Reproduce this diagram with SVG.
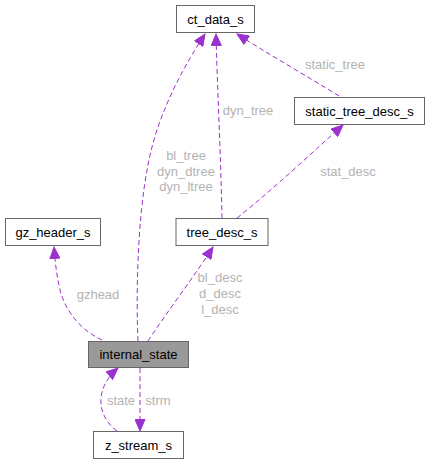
<svg xmlns="http://www.w3.org/2000/svg" width="431" height="464" viewBox="0 0 431 464">
<style>
.node rect{fill:#ffffff;stroke:#666666;stroke-width:1}
.node.hl rect{fill:#999999}
.node text{font-family:"Liberation Sans",Arial,sans-serif;font-size:13px;fill:#000000;text-anchor:middle}
.edge{fill:none;stroke:#9A32CD;stroke-width:1;stroke-dasharray:5,3}
.lbl{font-family:"Liberation Sans",Arial,sans-serif;font-size:13px;fill:#b3b3b3;text-anchor:middle}
</style>
<defs>
<marker id="ah" viewBox="0 0 13 11" refX="12" refY="5.5" markerWidth="13" markerHeight="11" markerUnits="userSpaceOnUse" orient="auto">
<path d="M0.5,0.5 L12,5.5 L0.5,10.5 Z" fill="#9A32CD" stroke="#9A32CD" stroke-width="1"/>
</marker>
</defs>
<rect width="431" height="464" fill="#ffffff"/>
<g id="connectors">
<path class="edge" marker-end="url(#ah)" d="M138,341 C136,300 137,220 148,165 C158,110 188,60 205,34"/>
<path class="edge" marker-end="url(#ah)" d="M222,218 C221,160 217,80 216,34"/>
<path class="edge" marker-end="url(#ah)" d="M339,96 C310,78 265,52 237,34"/>
<path class="edge" marker-end="url(#ah)" d="M237,218 C270,192 315,150 343,125"/>
<path class="edge" marker-end="url(#ah)" d="M102,340 C80,330 65,310 60,290 C56,272 55,260 54,247"/>
<path class="edge" marker-end="url(#ah)" d="M148,341 C165,315 195,275 213,247"/>
<path class="edge" marker-end="url(#ah)" d="M140,368 C140,390 140,410 140,431"/>
<path class="edge" marker-end="url(#ah)" d="M117,431 C105,422 100,410 101,398 C102,385 110,375 118,368"/>
<text class="lbl" x="186" y="159.5">bl_tree</text>
<text class="lbl" x="186" y="175.5">dyn_dtree</text>
<text class="lbl" x="186" y="190.5">dyn_ltree</text>
<text class="lbl" x="248" y="114.5">dyn_tree</text>
<text class="lbl" x="335" y="68.5">static_tree</text>
<text class="lbl" x="348" y="175.5">stat_desc</text>
<text class="lbl" x="98" y="298.5">gzhead</text>
<text class="lbl" x="220" y="281.5">bl_desc</text>
<text class="lbl" x="220" y="297.5">d_desc</text>
<text class="lbl" x="220" y="313.5">l_desc</text>
<text class="lbl" x="121" y="405">state</text>
<text class="lbl" x="158" y="405">strm</text>
</g>
<g id="ct_data_s" class="node"><rect x="176.5" y="5.5" width="78" height="27"/><text x="215.5" y="23.5">ct_data_s</text></g>
<g id="static_tree_desc_s" class="node"><rect x="294.5" y="97.5" width="130" height="27"/><text x="359.5" y="115.5">static_tree_desc_s</text></g>
<g id="gz_header_s" class="node"><rect x="5.5" y="218.5" width="95" height="27"/><text x="53" y="236.5">gz_header_s</text></g>
<g id="tree_desc_s" class="node"><rect x="176" y="218.5" width="92" height="27"/><text x="222" y="236.5">tree_desc_s</text></g>
<g id="internal_state" class="node hl"><rect x="88.5" y="341.5" width="100" height="26"/><text x="138.5" y="359">internal_state</text></g>
<g id="z_stream_s" class="node"><rect x="93.5" y="431.5" width="90" height="27"/><text x="138.5" y="449.5">z_stream_s</text></g>
</svg>
